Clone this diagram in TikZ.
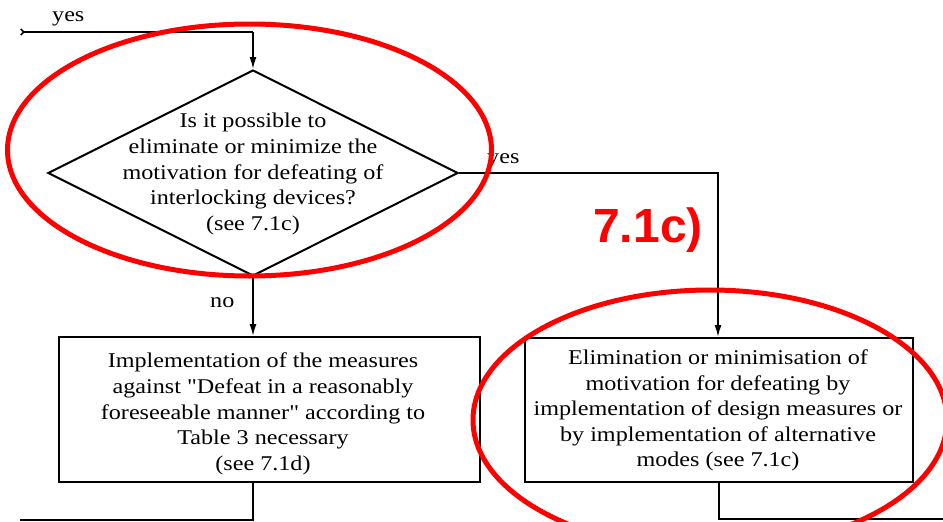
\documentclass[tikz,border=0pt]{standalone}
\usepackage{fontspec}
\setmainfont{Liberation Serif}[Ligatures=TeXOff, FakeStretch=1.15]
\newfontfamily\redsans{Liberation Sans}
\usetikzlibrary{shapes.geometric,arrows.meta}
\begin{document}
\begin{tikzpicture}[x=1pt,y=-1pt,
  txt/.style={font=\fontsize{21}{25.6}\selectfont, align=center, inner sep=0pt},
  boxnode/.style={draw, line width=2pt, inner sep=0pt},
  conn/.style={line width=1.6pt},
  arr/.style={conn, -{Latex[length=12pt,width=7pt]}},
  redring/.style={draw=red, line width=5pt}]
\useasboundingbox[fill=white] (0,0) rectangle (943,522);

% decision
\node[diamond, draw, line width=2pt, minimum width=410pt, minimum height=206pt, inner sep=0pt] (q) at (253,173) {};
\node[txt] (qt) at (253,174) {Is it possible to\\eliminate or minimize the\\motivation for defeating of\\interlocking devices?\\(see 7.1c)};

% boxes
\node[boxnode, minimum width=421pt, minimum height=145pt] (lb) at (269.5,409.5) {};
\node[txt] (lbt) at (263,414) {Implementation of the measures\\against "Defeat in a reasonably\\foreseeable manner" according to\\Table 3 necessary\\(see 7.1d)};
\node[boxnode, minimum width=388pt, minimum height=144pt] (rb) at (719,410) {};
\node[txt] (rbt) at (718,410.5) {Elimination or minimisation of\\motivation for defeating by\\implementation of design measures or\\by implementation of alternative\\modes (see 7.1c)};

% coordinates
\coordinate (inL) at (20,32);
\coordinate (inC) at (253,32);
\coordinate (yC) at (718,173);
\coordinate (lbB) at (253,520);
\coordinate (outL) at (20,520);
\coordinate (rbB) at (719,519);
\coordinate (outR) at (943,519);

% connectors
\draw[conn, {Straight Barb[reversed,length=3pt,width=6pt]}-] (inL) -- (inC);
\draw[arr] (inC) -- (q.north);
\draw[arr] (q.east) -- (yC) -- (yC |- rb.north);
\draw[arr] (q.south) -- (q.south |- lb.north);
\draw[conn] (lbB |- lb.south) -- (lbB) -- (outL);
\draw[conn] (rbB |- rb.south) -- (rbB) -- (outR);

% labels
\node[txt, anchor=west] (lyes1) at (52,19) {yes};
\node[txt, anchor=west] (lyes2) at (487,161) {yes};
\node[txt, anchor=west] (lno) at (210,303) {no};

% red annotations
\draw[redring] (249.5,150) ellipse [x radius=242pt, y radius=126pt];
\draw[redring] (710,420) ellipse [x radius=237pt, y radius=130pt];
\node[text=red, font=\redsans\bfseries\fontsize{48}{50}\selectfont, inner sep=0pt] (ref) at (648,230) {7.1c)};
\end{tikzpicture}
\end{document}
